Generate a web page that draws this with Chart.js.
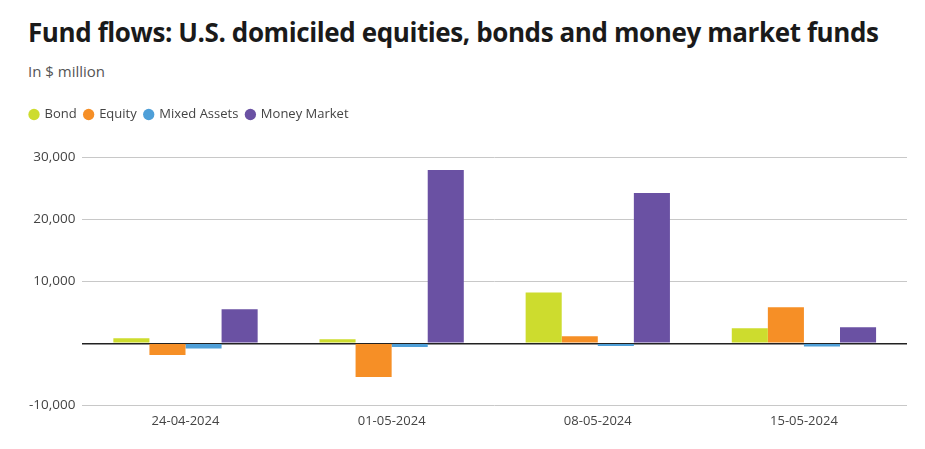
<!DOCTYPE html>
<html>
<head>
<meta charset="utf-8">
<script src="https://cdn.jsdelivr.net/npm/chart.js@4.4.1/dist/chart.umd.min.js"></script>
<style>
    body { margin: 0; background: #fff; font-family: "Open Sans", sans-serif; }
    #wrap { width: 925px; height: 449px; position: relative; }
    h1 { position: absolute; left: 28px; top: 14px; margin: 0; font-size: 26px; font-weight: 700; color: #1a1a1a; letter-spacing: -0.4px; white-space: nowrap; }
    .sub { position: absolute; left: 28px; top: 61px; font-size: 15px; color: #555; }
    #box { position: absolute; left: 0; top: 100px; width: 925px; height: 349px; }
</style>
</head>
<body>
<div id="wrap">
    <h1>Fund flows: U.S. domiciled equities, bonds and money market funds</h1>
    <div class="sub">In $ million</div>
    <div id="box"><canvas id="flowChart"></canvas></div>
</div>
<script>
const weeks = ['24-04-2024', '01-05-2024', '08-05-2024', '15-05-2024'];
const bond = [800, 650, 8170, 2420];
const equity = [-1900, -5430, 1130, 5800];
const mixedAssets = [-850, -600, -430, -530];
const moneyMarket = [5480, 27900, 24200, 2580];
const yTicks = [-10000, 0, 10000, 20000, 30000];

const colors = {
    bond: '#cddc2e',
    equity: '#f68f26',
    mixed: '#4e9fd8',
    money: '#6a51a3'
};

// push the plot area down below the legend
const legendGap = {
    id: 'legendGap',
    beforeInit(chart) {
        const fit = chart.legend.fit;
        chart.legend.fit = function () {
            fit.bind(chart.legend)();
            this.height += 26;
        };
    }
};

document.addEventListener('DOMContentLoaded', () => {
    new Chart(document.getElementById('flowChart'), {
        type: 'bar',
        data: {
            labels: weeks,
            datasets: [
                { label: 'Bond', data: bond, backgroundColor: colors.bond },
                { label: 'Equity', data: equity, backgroundColor: colors.equity },
                { label: 'Mixed Assets', data: mixedAssets, backgroundColor: colors.mixed },
                { label: 'Money Market', data: moneyMarket, backgroundColor: colors.money }
            ]
        },
        options: {
            responsive: true,
            maintainAspectRatio: false,
            animation: false,
            layout: { padding: { left: 22, right: 18, top: 0, bottom: 20 } },
            datasets: { bar: { barPercentage: 1, categoryPercentage: 0.7 } },
            scales: {
                x: {
                    grid: { display: false },
                    border: { display: false },
                    ticks: { color: '#444', font: { family: 'Open Sans', size: 13 }, padding: 0 }
                },
                y: {
                    min: -10000,
                    max: 30000,
                    afterBuildTicks: axis => { axis.ticks = yTicks.map(v => ({ value: v })); },
                    border: { display: false },
                    grid: {
                        drawTicks: false,
                        color: ctx => ctx.tick && ctx.tick.value === 0 ? '#222' : '#c8c8c8',
                        lineWidth: ctx => ctx.tick && ctx.tick.value === 0 ? 1.5 : 1
                    },
                    ticks: {
                        color: '#444',
                        padding: 7,
                        font: { family: 'Open Sans', size: 13.5 },
                        callback: v => v === 0 ? '' : v.toLocaleString('en-US')
                    }
                }
            },
            plugins: {
                legend: {
                    position: 'top',
                    align: 'start',
                    labels: {
                        usePointStyle: true,
                        pointStyle: 'circle',
                        boxWidth: 8,
                        boxHeight: 8,
                        padding: 8,
                        color: '#444',
                        font: { family: 'Open Sans', size: 13 }
                    }
                },
                tooltip: { enabled: false }
            }
        },
        plugins: [legendGap]
    });
});
</script>
</body>
</html>
